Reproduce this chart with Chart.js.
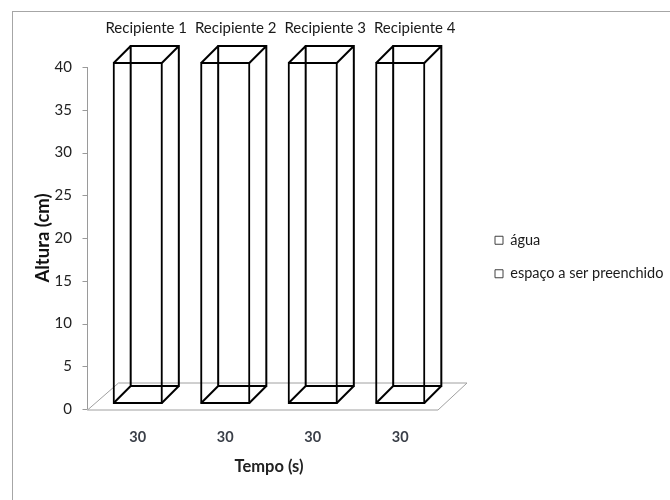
<!DOCTYPE html>
<html><head><meta charset="utf-8">
<script src="https://cdn.jsdelivr.net/npm/chart.js@4.4.1/dist/chart.umd.min.js"></script>
<style>html,body{margin:0;padding:0;background:#fff}</style>
</head><body>
<canvas id="c" width="670" height="500"></canvas>
<script>
// ---- data ----
const categories = ['30', '30', '30', '30'];
const containerNames = ['Recipiente 1', 'Recipiente 2', 'Recipiente 3', 'Recipiente 4'];
const seriesNames = ['água', 'espaço a ser preenchido'];
const aguaValues = [0, 0, 0, 0];
const espacoValues = [40, 40, 40, 40];
const yTickValues = [0, 5, 10, 15, 20, 25, 30, 35, 40];
const xTitle = 'Tempo (s)';
const yTitle = 'Altura (cm)';

// ---- style constants ----
const FONT = 'Lato, "Open Sans", sans-serif';
const DEPTH_X = 17, DEPTH_Y = 17, LIFT = 5;
const FLOOR_DX = 30, FLOOR_DY = 27;

const box3d = {
  id: 'box3d',
  beforeInit(chart) {
    const lg = chart.legend;
    if (lg) {
      const orig = lg.fit.bind(lg);
      lg.fit = function () { orig(); this.width = 226; };
    }
  },
  afterLayout(chart) {
    const lg = chart.legend;
    if (lg) {
      const pad = lg.options.labels.padding;
      lg.left = 495 - pad;
      lg.top = 214;
    }
  },
  beforeDatasetsDraw(chart) {
    const { ctx, chartArea, scales } = chart;
    const ys = scales.y;
    const y0 = ys.getPixelForValue(0);
    const yTop = ys.getPixelForValue(yTickValues[yTickValues.length - 1]);
    const axX = Math.round(chartArea.left - 7) + 0.5;
    ctx.save();
    // outer chart border (only left & top visible)
    ctx.strokeStyle = '#a6a6a6';
    ctx.lineWidth = 1;
    ctx.strokeRect(12.5, 11.5, 720, 540);
    // y axis line + tick marks
    ctx.strokeStyle = '#9a9a9a';
    ctx.beginPath();
    ctx.moveTo(axX, yTop);
    ctx.lineTo(axX, y0);
    yTickValues.forEach(v => {
      const py = Math.round(ys.getPixelForValue(v)) + 0.5;
      ctx.moveTo(axX - 5, py);
      ctx.lineTo(axX, py);
    });
    ctx.stroke();
    // floor
    const fr = chartArea.right - 6;
    ctx.strokeStyle = '#a0a0a0';
    ctx.beginPath();
    ctx.moveTo(axX, y0 + 1);
    ctx.lineTo(fr, y0 + 1);
    ctx.lineTo(fr + FLOOR_DX - 1, y0 + 1 - FLOOR_DY);
    ctx.lineTo(axX + FLOOR_DX + 1, y0 + 1 - FLOOR_DY);
    ctx.closePath();
    ctx.stroke();
    ctx.restore();
    ctx.save();
    ctx.translate(0, -LIFT);
  },
  afterDatasetsDraw(chart) {
    const { ctx } = chart;
    const base = chart.getDatasetMeta(0);
    const top = chart.getDatasetMeta(chart.data.datasets.length - 1);
    ctx.strokeStyle = '#000';
    ctx.lineWidth = 2;
    top.data.forEach((bar, i) => {
      const p = bar.getProps(['x', 'y', 'width'], true);
      const b0 = base.data[i].getProps(['base'], true).base;
      const l = p.x - p.width / 2 + 1, r = p.x + p.width / 2 - 1;
      const t = p.y + 1, b = b0 - 1;
      ctx.beginPath();
      // back face
      ctx.rect(l + DEPTH_X, t - DEPTH_Y, r - l, b - t);
      // connecting edges
      [[l, t], [r, t], [l, b], [r, b]].forEach(([cx, cy]) => {
        ctx.moveTo(cx, cy);
        ctx.lineTo(cx + DEPTH_X, cy - DEPTH_Y);
      });
      ctx.stroke();
    });
    ctx.restore();
    // container names above boxes
    ctx.save();
    ctx.fillStyle = '#1a1a1a';
    ctx.font = '15px ' + FONT;
    ctx.textAlign = 'center';
    ctx.textBaseline = 'middle';
    top.data.forEach((bar, i) => {
      const p = bar.getProps(['x', 'y'], true);
      ctx.fillText(containerNames[i], p.x + DEPTH_X / 2 + i * 2, p.y - LIFT - DEPTH_Y - 17);
    });
    ctx.restore();
  }
};

new Chart(document.getElementById('c'), {
  type: 'bar',
  data: {
    labels: categories,
    datasets: [
      { label: seriesNames[0], data: aguaValues, backgroundColor: 'rgba(255,255,255,0)', borderColor: '#000', borderWidth: 2, borderSkipped: false,
        categoryPercentage: 1, barPercentage: 0.573 },
      { label: seriesNames[1], data: espacoValues, backgroundColor: 'rgba(255,255,255,0)', borderColor: '#000', borderWidth: 2, borderSkipped: false,
        categoryPercentage: 1, barPercentage: 0.573 }
    ]
  },
  options: {
    responsive: false,
    devicePixelRatio: 1,
    animation: false,
    layout: { padding: { top: 67, left: 0, right: 0, bottom: 0 } },
    plugins: {
      legend: {
        position: 'right',
        align: 'start',
        labels: {
          boxWidth: 8, boxHeight: 8, padding: 19,
          color: '#1a1a1a',
          font: { family: FONT, size: 14.5 },
          generateLabels(chart) {
            return Chart.defaults.plugins.legend.labels.generateLabels(chart).map(it => {
              it.fillStyle = '#ffffff'; it.strokeStyle = '#404040'; it.lineWidth = 1; return it;
            });
          }
        }
      },
      tooltip: { enabled: false }
    },
    scales: {
      x: {
        stacked: true,
        grid: { display: false, drawTicks: false },
        border: { display: false },
        ticks: { color: '#3a3f48', padding: 20, font: { family: FONT, size: 14.5, weight: 'bold' } },
        title: { display: true, text: xTitle, color: '#222', padding: { top: 0, bottom: 23 }, font: { family: FONT, size: 16.5, weight: 'bold' } },
        afterFit(s) { s.height = 91; }
      },
      y: {
        stacked: true,
        min: 0, max: 40,
        grid: { display: false, drawTicks: false },
        border: { display: false },
        afterBuildTicks(s) { s.ticks = yTickValues.map(v => ({ value: v })); },
        ticks: { color: '#222', padding: 22, font: { family: FONT, size: 15 } },
        title: { display: true, text: yTitle, color: '#111', padding: { top: 32, bottom: 0 }, font: { family: FONT, size: 18.5, weight: 'bold' } },
        afterFit(s) { s.width = 94; }
      }
    }
  },
  plugins: [box3d]
});
</script>
</body></html>
